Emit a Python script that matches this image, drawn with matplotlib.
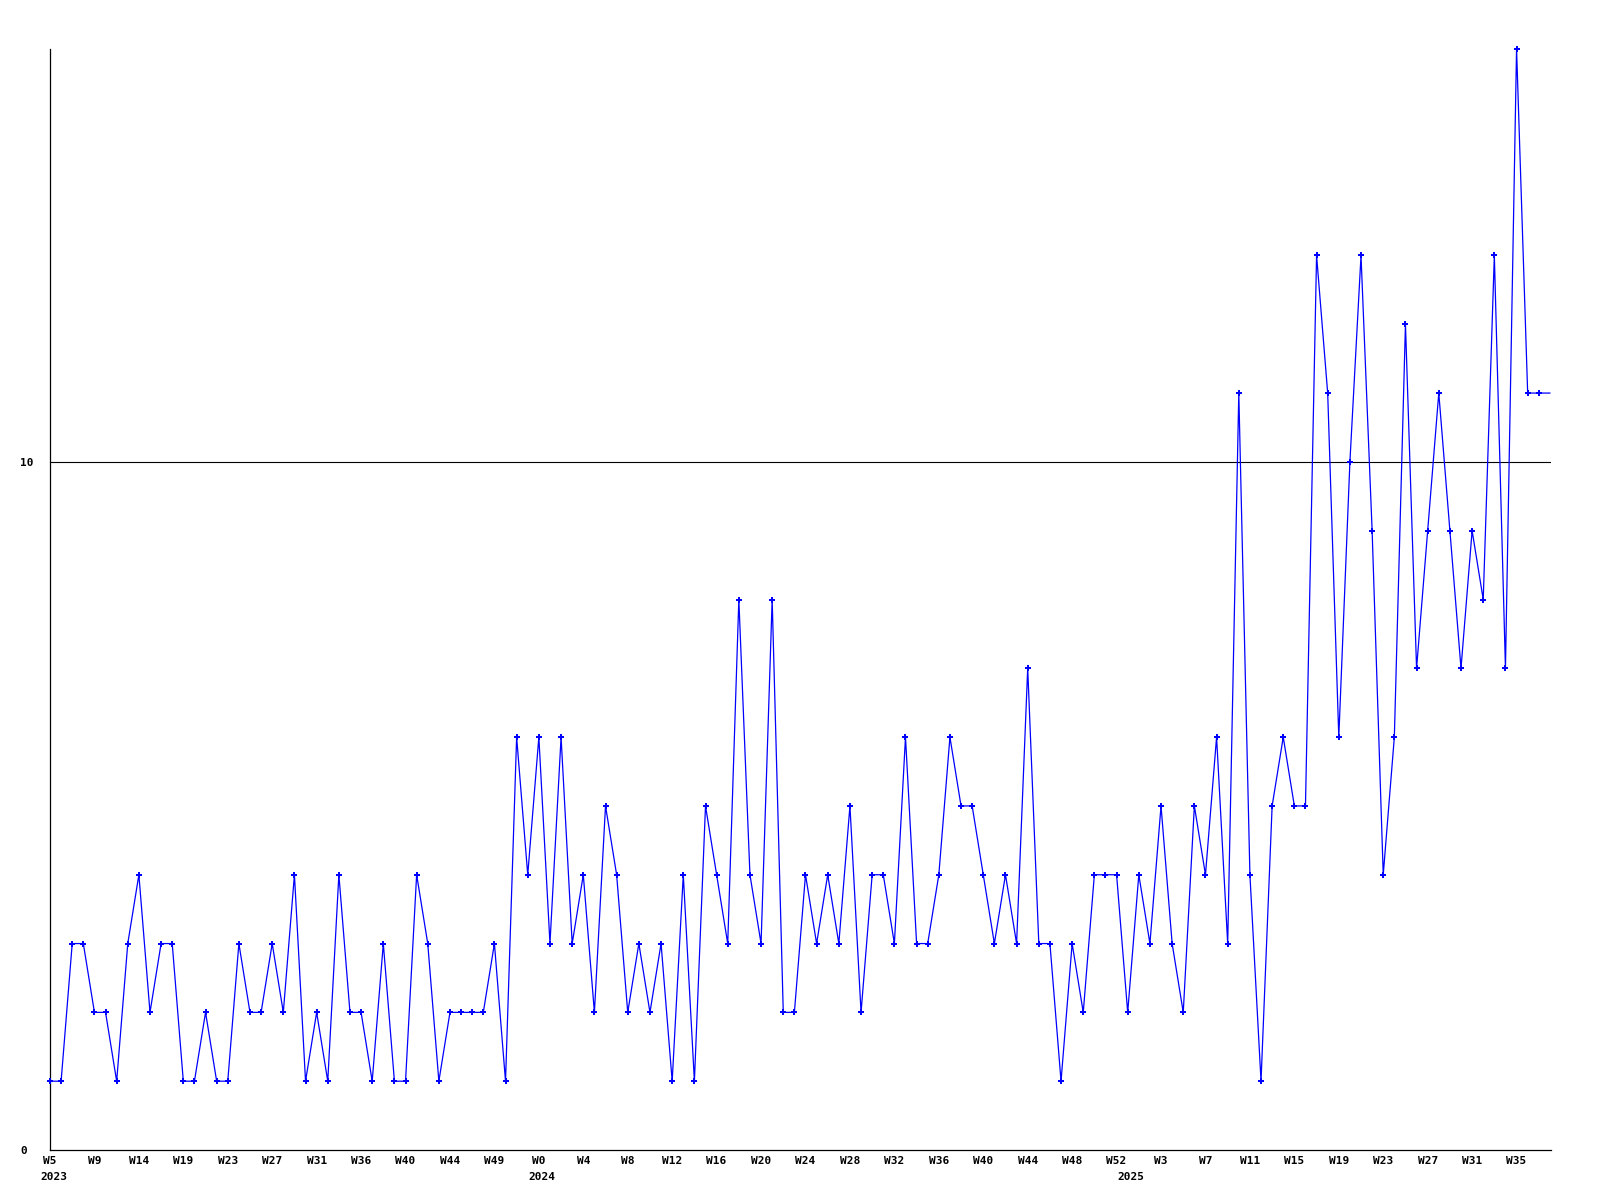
import matplotlib
matplotlib.use("Agg")
import matplotlib.pyplot as plt

# weekly counts, 2023 W5 .. 2025 W36
values = [
    1, 1, 3, 3, 2, 2, 1, 3, 4, 2, 3, 3, 1, 1, 2, 1, 1, 3, 2, 2,
    3, 2, 4, 1, 2, 1, 4, 2, 2, 1, 3, 1, 1, 4, 3, 1, 2, 2, 2, 2,
    3, 1, 6, 4, 6, 3, 6, 3, 4, 2, 5, 4, 2, 3, 2, 3, 1, 4, 1, 5,
    4, 3, 8, 4, 3, 8, 2, 2, 4, 3, 4, 3, 5, 2, 4, 4, 3, 6, 3, 3,
    4, 6, 5, 5, 4, 3, 4, 3, 7, 3, 3, 1, 3, 2, 4, 4, 4, 2, 4, 3,
    5, 3, 2, 5, 4, 6, 3, 11, 4, 1, 5, 6, 5, 5, 13, 11, 6, 10, 13, 9,
    4, 6, 12, 7, 9, 11, 9, 7, 9, 8, 13, 7, 16, 11, 11, 11,
]

week_labels = [
    "W5", "W9", "W14", "W19", "W23", "W27", "W31", "W36", "W40", "W44", "W49",
    "W0", "W4", "W8", "W12", "W16", "W20", "W24", "W28", "W32", "W36", "W40",
    "W44", "W48", "W52", "W3", "W7", "W11", "W15", "W19", "W23", "W27", "W31", "W35",
]
year_labels = ["2023", "2024", "2025"]
year_starts = [0, 44, 97]

plt.rcParams["font.family"] = ["DejaVu Sans Mono"]
plt.rcParams["font.weight"] = "bold"

fig = plt.figure(figsize=(16, 12), dpi=100)
ax = fig.add_axes([50 / 1600, 50 / 1200, 1501 / 1600, 1101 / 1200])

x = list(range(len(values)))
ax.axhline(10, color="black", lw=0.8, zorder=1)
ax.plot(x, values, color="#0000ff", lw=0.9, marker="P", ms=4.8, mew=0,
        markevery=slice(0, len(values) - 1), zorder=3, clip_on=False)

ax.set_xlim(0, 135.1)
ax.set_ylim(0, 16)

for s in ("top", "right"):
    ax.spines[s].set_visible(False)
for s in ("left", "bottom"):
    ax.spines[s].set_linewidth(0.9)
    ax.spines[s].set_color("black")

ax.set_xticks(range(0, 4 * len(week_labels), 4))
ax.set_xticklabels(week_labels, fontsize=8, fontweight="bold")
ax.tick_params(axis="x", length=0, pad=4)

ax.set_yticks([0, 10])
ax.set_yticklabels(["0", "10"], fontsize=8, fontweight="bold")
ax.tick_params(axis="y", length=0, pad=21.5)
for lab in ax.get_yticklabels():
    lab.set_horizontalalignment("left")

for yr, idx in zip(year_labels, year_starts):
    ax.annotate(yr, xy=(idx, 0), xycoords=("data", "axes fraction"),
                xytext=(2.5, -19.5), textcoords="offset points",
                ha="center", va="center", fontsize=8, fontweight="bold",
                annotation_clip=False)

fig.savefig("out.png", dpi=100)
